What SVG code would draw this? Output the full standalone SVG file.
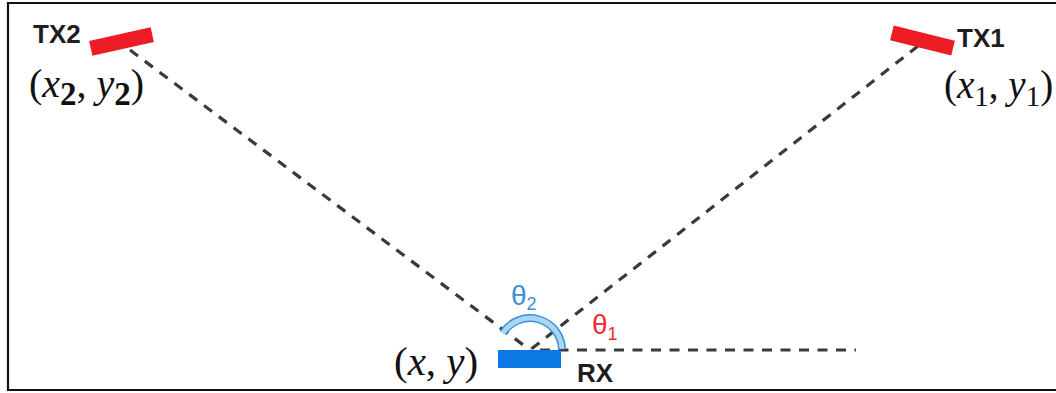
<svg xmlns="http://www.w3.org/2000/svg" width="1056" height="393" viewBox="0 0 1056 393">
  <defs>
    <style>
      .ray { fill: none; stroke: #3a3a3a; stroke-width: 3.2; stroke-dasharray: 10 8.5; }
      .tx { fill: #ec1c24; }
    </style>
  </defs>
  <rect x="0" y="0" width="1056" height="393" fill="#ffffff"/>
  <!-- outer frame, open on the right -->
  <polyline points="1056,3 8,3 8,390 1056,390" fill="none" stroke="#111" stroke-width="2.2"/>

  <g id="connectors">
    <line class="ray" x1="130" y1="50" x2="530" y2="350"/>
    <line class="ray" x1="918" y1="46" x2="530" y2="350"/>
    <line class="ray" x1="540" y1="350" x2="856" y2="350"/>
  </g>

  <g id="angle-arc">
    <path d="M503,333 A32,32 0 0 1 562,349" fill="none" stroke="#3d8fd6" stroke-width="8"/>
    <path d="M503,333 A32,32 0 0 1 562,349" fill="none" stroke="#a9d6f5" stroke-width="5"/>
  </g>

  <g id="tx2">
    <rect class="tx" x="90" y="34" width="63" height="15" transform="rotate(-12.5 121.5 41.5)"/>
    <text x="33" y="43" font-family="Liberation Sans, Arial, sans-serif" font-weight="bold" font-size="26" fill="#1e1e1e">TX2</text>
    <text x="29" y="97" font-family="Liberation Serif, Times New Roman, serif" font-size="40" fill="#111">(<tspan font-style="italic">x</tspan><tspan font-weight="bold" font-size="33" dy="8">2</tspan><tspan dy="-8">, </tspan><tspan font-style="italic">y</tspan><tspan font-weight="bold" font-size="33" dy="8">2</tspan><tspan dy="-8">)</tspan></text>
  </g>

  <g id="tx1">
    <rect class="tx" x="891" y="33" width="63" height="15" transform="rotate(14 922.5 40.5)"/>
    <text x="957" y="47" font-family="Liberation Sans, Arial, sans-serif" font-weight="bold" font-size="26" fill="#1e1e1e">TX1</text>
    <text x="944" y="98" font-family="Liberation Serif, Times New Roman, serif" font-size="39" fill="#111">(<tspan font-style="italic">x</tspan><tspan font-size="29" dy="8">1</tspan><tspan dy="-8">, </tspan><tspan font-style="italic">y</tspan><tspan font-size="29" dy="8">1</tspan><tspan dy="-8">)</tspan></text>
  </g>

  <g id="rx">
    <rect x="498" y="350" width="63" height="18" fill="#0b78e3"/>
    <text x="577" y="382" font-family="Liberation Sans, Arial, sans-serif" font-weight="bold" font-size="26" fill="#1e1e1e">RX</text>
    <text x="394" y="375" font-family="Liberation Serif, Times New Roman, serif" font-size="41" fill="#111">(<tspan font-style="italic">x</tspan>, <tspan font-style="italic">y</tspan>)</text>
  </g>

  <g id="angles">
    <text x="511" y="305" font-family="Liberation Sans, Arial, sans-serif" font-size="28" fill="#3a8fd3">θ<tspan font-size="18" dy="5">2</tspan></text>
    <text x="592" y="334" font-family="Liberation Sans, Arial, sans-serif" font-size="28" fill="#ef2b33">θ<tspan font-size="18" dy="6">1</tspan></text>
  </g>
</svg>
